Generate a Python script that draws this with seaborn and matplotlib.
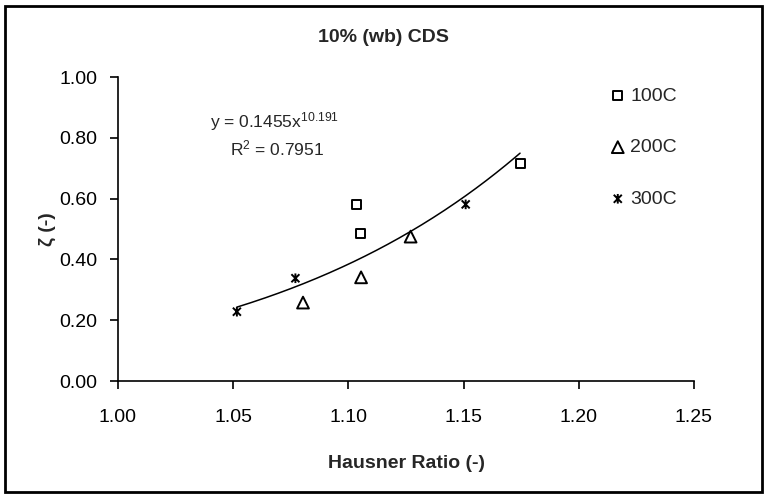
import numpy as np
import pandas as pd
import matplotlib
matplotlib.use("Agg")
import matplotlib.pyplot as plt
import seaborn as sns
from matplotlib.path import Path
from matplotlib.patches import Rectangle
from matplotlib.ticker import FormatStrFormatter

# ---- data ----
series_names = ["100C", "200C", "300C"]
x_100 = [1.1033, 1.1054, 1.1745]
y_100 = [0.582, 0.484, 0.716]
x_200 = [1.0803, 1.1055, 1.1270]
y_200 = [0.258, 0.341, 0.475]
x_300 = [1.0516, 1.0770, 1.1509]
y_300 = [0.228, 0.338, 0.581]

# trendline (power fit shown on chart)
fit_a = 0.1455
fit_b = 10.191
fit_r2 = 0.7951

x_ticks = [1.00, 1.05, 1.10, 1.15, 1.20, 1.25]
y_ticks = [0.00, 0.20, 0.40, 0.60, 0.80, 1.00]

title = "10% (wb) CDS"
x_label = "Hausner Ratio (-)"
y_label = "ζ (-)"

df = pd.DataFrame({
    "x": x_100 + x_200 + x_300,
    "y": y_100 + y_200 + y_300,
    "series": ["100C"] * len(x_100) + ["200C"] * len(x_200) + ["300C"] * len(x_300),
})

# ---- style ----
sns.set_theme(style="ticks")
plt.rcParams["font.family"] = ["Liberation Sans", "DejaVu Sans"]
plt.rcParams["mathtext.fontset"] = "custom"
plt.rcParams["mathtext.rm"] = "Liberation Sans"
plt.rcParams["mathtext.it"] = "Liberation Sans"
plt.rcParams["mathtext.default"] = "rm"

fig = plt.figure(figsize=(7.68, 4.97), dpi=100)
ax = fig.add_axes([118 / 768, 1 - 381 / 497, 576 / 768, 304 / 497])

# asterisk-like star marker (x with vertical bar)
star = Path(
    [(-1, -1), (1, 1), (-1, 1), (1, -1), (0, -1.2), (0, 1.2)],
    [Path.MOVETO, Path.LINETO, Path.MOVETO, Path.LINETO, Path.MOVETO, Path.LINETO],
)
marker_map = {"100C": "s", "200C": "^", "300C": star}
size_map = {"100C": 42, "200C": 72, "300C": 48}

for name in series_names:
    sub = df[df["series"] == name]
    sns.scatterplot(data=sub, x="x", y="y", ax=ax, marker=marker_map[name],
                    s=size_map[name], facecolor="none", edgecolor="black",
                    linewidth=1.4, label=name, legend=False, zorder=3)

# trendline
xf = np.linspace(df["x"].min(), df["x"].max(), 200)
yf = fit_a * xf ** fit_b
sns.lineplot(x=xf, y=yf, ax=ax, color="black", linewidth=1.1, zorder=2)

ax.set_xlim(1.00, 1.25)
ax.set_ylim(0.00, 1.00)
ax.set_xticks(x_ticks)
ax.set_yticks(y_ticks)
ax.xaxis.set_major_formatter(FormatStrFormatter("%.2f"))
ax.yaxis.set_major_formatter(FormatStrFormatter("%.2f"))
ax.tick_params(axis="both", direction="out", length=6, width=1.2, colors="black",
               labelsize=14)
ax.tick_params(axis="x", pad=14)
ax.tick_params(axis="y", pad=9)
for side in ["top", "right"]:
    ax.spines[side].set_visible(False)
for side in ["left", "bottom"]:
    ax.spines[side].set_color("black")
    ax.spines[side].set_linewidth(1.2)
ax.set_facecolor("white")

ax.set_xlabel(x_label, fontsize=14, fontweight="bold")
ax.set_ylabel(y_label, fontsize=14, fontweight="bold")
ax.xaxis.set_label_coords(0.5, (381 - 455) / 304)
ax.yaxis.set_label_coords((56 - 118) / 576, 0.5)

fig.text(383 / 768, 1 - 37 / 497, title, ha="center", va="center",
         fontsize=14, fontweight="bold")

# equation annotation
fig.text(275 / 768, 1 - 122 / 497,
         r"y = %.4fx$^{%.3f}$" % (fit_a, fit_b), ha="center", va="center", fontsize=12.5)
fig.text(277 / 768, 1 - 148 / 497,
         r"R$^{2}$ = %.4f" % fit_r2, ha="center", va="center", fontsize=12.5)

# legend
leg = ax.legend(loc="upper left", bbox_to_anchor=(610 / 768, 1 - 87 / 497),
                bbox_transform=fig.transFigure, frameon=False, fontsize=14,
                labelspacing=1.75, handlelength=0.8, handletextpad=0.25,
                borderpad=0, borderaxespad=0)

# outer chart border
fig.patches.append(Rectangle((5 / 768, 5 / 497), 757 / 768, 486 / 497,
                             transform=fig.transFigure, fill=False,
                             edgecolor="black", linewidth=2))

fig.savefig("out.png", dpi=100)
